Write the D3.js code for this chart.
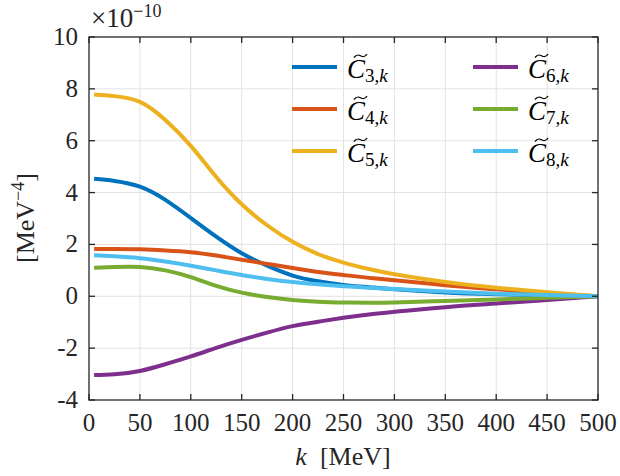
<!DOCTYPE html>
<html>
<head>
<meta charset="utf-8">
<script src="https://cdn.jsdelivr.net/npm/d3@7"></script>
<style>
  body { margin: 0; background: #fff; }
  svg { font-family: "Liberation Serif", "DejaVu Serif", serif; }
</style>
</head>
<body>
<svg id="chart" width="620" height="476"></svg>
<script>
// momentum grid (MeV) and curves, in units of 1e-10 MeV^-4
const kValues = [5, 25, 50, 75, 100, 125, 150, 175, 200, 225, 250, 275, 300, 350, 400, 450, 500];
const c3 = [4.53, 4.45, 4.23, 3.72, 3.02, 2.3, 1.66, 1.18, 0.8, 0.58, 0.44, 0.35, 0.27, 0.15, 0.08, 0.03, 0];
const c4 = [1.82, 1.82, 1.81, 1.77, 1.7, 1.57, 1.41, 1.25, 1.09, 0.94, 0.82, 0.71, 0.62, 0.43, 0.27, 0.12, 0];
const c5 = [7.78, 7.72, 7.5, 6.8, 5.8, 4.6, 3.55, 2.74, 2.1, 1.63, 1.3, 1.05, 0.85, 0.55, 0.33, 0.16, 0];
const c6 = [-3.04, -3.01, -2.88, -2.62, -2.32, -1.99, -1.68, -1.4, -1.15, -0.98, -0.83, -0.7, -0.6, -0.42, -0.28, -0.14, 0];
const c7 = [1.1, 1.13, 1.13, 1.0, 0.74, 0.4, 0.14, -0.03, -0.14, -0.21, -0.24, -0.25, -0.24, -0.18, -0.12, -0.06, 0];
const c8 = [1.58, 1.54, 1.47, 1.34, 1.18, 1.0, 0.82, 0.67, 0.55, 0.46, 0.39, 0.33, 0.28, 0.18, 0.1, 0.05, 0];

const seriesNames = ["3", "4", "5", "6", "7", "8"];
const seriesValues = [c3, c4, c5, c6, c7, c8];
const colors = ["#0072BD", "#D95319", "#EDB120", "#7E2F8E", "#77AC30", "#4DBEEE"];
const xTicks = [0, 50, 100, 150, 200, 250, 300, 350, 400, 450, 500];
const yTicks = [-4, -2, 0, 2, 4, 6, 8, 10];

const m = { left: 89, right: 598, top: 37, bottom: 400 };
const svg = d3.select("#chart");

const x = d3.scaleLinear().domain([0, 500]).range([m.left, m.right]);
const y = d3.scaleLinear().domain([-4, 10]).range([m.bottom, m.top]);

// grid
const grid = svg.append("g").attr("stroke", "#e2e2e2").attr("stroke-width", 1);
grid.selectAll(".gx").data(xTicks.slice(1, -1)).enter().append("line")
  .attr("x1", d => x(d)).attr("x2", d => x(d)).attr("y1", m.top).attr("y2", m.bottom);
grid.selectAll(".gy").data(yTicks.slice(1, -1)).enter().append("line")
  .attr("y1", d => y(d)).attr("y2", d => y(d)).attr("x1", m.left).attr("x2", m.right);

// curves
const line = d3.line().x(d => x(d[0])).y(d => y(d[1])).curve(d3.curveNatural);
seriesValues.forEach((vals, i) => {
  svg.append("path")
    .datum(kValues.map((k, j) => [k, vals[j]]))
    .attr("fill", "none")
    .attr("stroke", colors[i])
    .attr("stroke-width", 4)
    .attr("stroke-linejoin", "round")
    .attr("d", line);
});

// axes box with inward ticks
const axisColor = "#262626";
const tl = 6;
const ax = svg.append("g").attr("stroke", axisColor).attr("stroke-width", 1.3);
ax.append("rect").attr("x", m.left).attr("y", m.top).attr("width", m.right - m.left).attr("height", m.bottom - m.top)
  .attr("fill", "none");
xTicks.forEach(t => {
  ax.append("line").attr("x1", x(t)).attr("x2", x(t)).attr("y1", m.bottom).attr("y2", m.bottom - tl);
  ax.append("line").attr("x1", x(t)).attr("x2", x(t)).attr("y1", m.top).attr("y2", m.top + tl);
});
yTicks.forEach(t => {
  ax.append("line").attr("y1", y(t)).attr("y2", y(t)).attr("x1", m.left).attr("x2", m.left + tl);
  ax.append("line").attr("y1", y(t)).attr("y2", y(t)).attr("x1", m.right).attr("x2", m.right - tl);
});

// tick labels
const fs = 25;
svg.append("g").selectAll("text").data(xTicks).enter().append("text")
  .attr("x", d => x(d)).attr("y", 431)
  .attr("text-anchor", "middle").attr("font-size", fs).attr("fill", axisColor)
  .text(d => d);
svg.append("g").selectAll("text").data(yTicks).enter().append("text")
  .attr("x", 78).attr("y", d => y(d) + 8)
  .attr("text-anchor", "end").attr("font-size", fs).attr("fill", axisColor)
  .text(d => d);

// exponent
const ex = svg.append("text").attr("x", 91).attr("y", 27).attr("font-size", 27).attr("fill", axisColor);
ex.append("tspan").text("×10");
ex.append("tspan").attr("dy", -10).attr("font-size", 18).text("−10");

// axis labels
const xl = svg.append("text").attr("x", 343).attr("y", 465).attr("text-anchor", "middle")
  .attr("font-size", 26).attr("fill", axisColor);
xl.append("tspan").attr("font-style", "italic").text("k");
xl.append("tspan").text("\u00a0\u00a0[MeV]");

const yl = svg.append("text").attr("transform", "translate(34,218) rotate(-90)")
  .attr("text-anchor", "middle").attr("font-size", 26).attr("fill", axisColor);
yl.append("tspan").text("[MeV");
yl.append("tspan").attr("dy", -10).attr("font-size", 18).text("−4");
yl.append("tspan").attr("dy", 10).text("]");

// legend
const legX = [292, 473];
const legY = [67, 109, 151];
seriesNames.forEach((n, i) => {
  const col = Math.floor(i / 3), row = i % 3;
  const lx = legX[col], ly = legY[row];
  svg.append("line").attr("x1", lx).attr("x2", lx + 45).attr("y1", ly).attr("y2", ly)
    .attr("stroke", colors[i]).attr("stroke-width", 4);
  const tx = lx + 55;
  // tilde accent
  const ty = ly - 11, t0 = tx + 7;
  svg.append("path")
    .attr("d", `M${t0},${ty + 1.5} C${t0 + 3},${ty - 2.5} ${t0 + 5},${ty - 1} ${t0 + 7},${ty} S${t0 + 11},${ty + 1.5} ${t0 + 13},${ty - 2}`)
    .attr("fill", "none").attr("stroke", "#000").attr("stroke-width", 1.3);
  const t = svg.append("text").attr("x", tx).attr("y", ly + 11).attr("font-size", 27).attr("fill", "#000");
  t.append("tspan").attr("font-style", "italic").text("C");
  t.append("tspan").attr("dy", 4).attr("font-size", 19).text(n + ",");
  t.append("tspan").attr("font-size", 19).attr("font-style", "italic").text("k");
});
</script>
</body>
</html>
